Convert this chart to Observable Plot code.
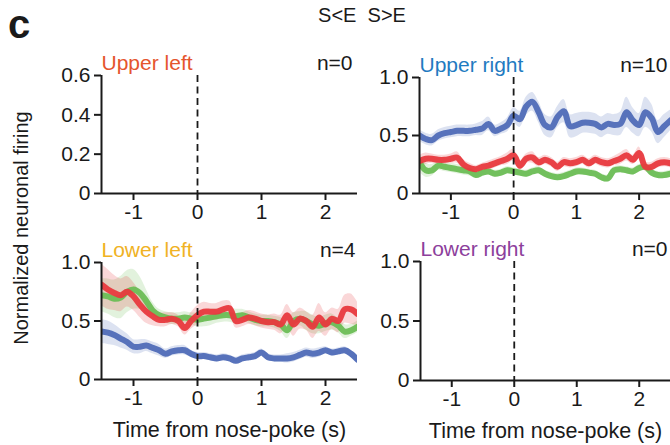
<!DOCTYPE html>
<html>
<head>
<meta charset="utf-8">
<script src="https://cdn.jsdelivr.net/npm/d3@7"></script>
<script src="https://cdn.jsdelivr.net/npm/@observablehq/plot@0.6"></script>
<style>
  body { margin: 0; background: #fff; }
  #fig { position: relative; width: 670px; height: 445px; overflow: hidden; background: #fff;
         font-family: "Liberation Sans", Arial, Helvetica, sans-serif; color: #1a1a1a; }
  .abs { position: absolute; }
  #letter { left: 8px; top: 4px; font-size: 40px; font-weight: bold; line-height: 1; }
  #heading { left: 362px; top: 5px; transform: translateX(-50%); font-size: 20px; white-space: pre; line-height: 1; }
  #ylabel { left: 21px; top: 228px; transform: translate(-50%, -50%) rotate(-90deg); font-size: 20px; white-space: nowrap; line-height: 1; }
</style>
</head>
<body>
<div id="fig">
  <div id="letter" class="abs">c</div>
  <div id="heading" class="abs">S&lt;E  S&gt;E</div>
  <div id="ylabel" class="abs">Normalized neuronal firing</div>
</div>
<script>
// Time bins (s) relative to nose-poke
const time = [-1.5, -1.4, -1.3, -1.2, -1.1, -1.0, -0.9, -0.8, -0.7, -0.6, -0.5, -0.4, -0.3, -0.2, -0.1,
  0.0, 0.1, 0.2, 0.3, 0.4, 0.5, 0.6, 0.7, 0.8, 0.9, 1.0, 1.1, 1.2, 1.3, 1.4, 1.5, 1.6, 1.7, 1.8, 1.9,
  2.0, 2.1, 2.2, 2.3, 2.4, 2.5];
const xTicks = [-1, 0, 1, 2];

// Upper right (n=10): mean and s.e.m.
const urBlue = [0.50, 0.47, 0.46, 0.50, 0.52, 0.53, 0.54, 0.54, 0.54, 0.55, 0.56, 0.60, 0.54, 0.56, 0.59,
  0.67, 0.64, 0.75, 0.79, 0.70, 0.59, 0.57, 0.66, 0.71, 0.58, 0.59, 0.61, 0.61, 0.60, 0.57, 0.60, 0.59,
  0.60, 0.70, 0.63, 0.59, 0.70, 0.65, 0.53, 0.58, 0.63];
const urBlueSe = [0.05, 0.05, 0.05, 0.05, 0.05, 0.05, 0.05, 0.05, 0.05, 0.05, 0.06, 0.06, 0.05, 0.05, 0.06,
  0.07, 0.07, 0.08, 0.08, 0.09, 0.09, 0.09, 0.09, 0.10, 0.10, 0.10, 0.09, 0.09, 0.09, 0.09, 0.09, 0.09,
  0.10, 0.13, 0.11, 0.10, 0.13, 0.12, 0.10, 0.10, 0.09];
const urRed = [0.28, 0.30, 0.30, 0.29, 0.29, 0.30, 0.31, 0.25, 0.22, 0.21, 0.23, 0.24, 0.26, 0.28, 0.30,
  0.33, 0.24, 0.30, 0.31, 0.27, 0.29, 0.27, 0.23, 0.27, 0.26, 0.27, 0.29, 0.26, 0.29, 0.27, 0.26, 0.28,
  0.30, 0.33, 0.29, 0.35, 0.23, 0.23, 0.26, 0.27, 0.26];
const urRedSe = [0.05, 0.05, 0.04, 0.04, 0.04, 0.04, 0.05, 0.04, 0.04, 0.03, 0.03, 0.04, 0.04, 0.04, 0.05,
  0.05, 0.04, 0.04, 0.05, 0.04, 0.04, 0.04, 0.04, 0.04, 0.04, 0.04, 0.04, 0.04, 0.04, 0.04, 0.04, 0.04,
  0.05, 0.05, 0.04, 0.05, 0.04, 0.04, 0.04, 0.04, 0.04];
const urGreen = [0.27, 0.20, 0.20, 0.24, 0.23, 0.22, 0.21, 0.20, 0.19, 0.16, 0.18, 0.19, 0.17, 0.18, 0.20,
  0.19, 0.18, 0.17, 0.19, 0.20, 0.17, 0.15, 0.14, 0.15, 0.17, 0.19, 0.19, 0.18, 0.17, 0.14, 0.13, 0.20,
  0.21, 0.20, 0.19, 0.22, 0.23, 0.18, 0.16, 0.16, 0.17];
const urGreenSe = [0.08, 0.06, 0.05, 0.04, 0.04, 0.04, 0.04, 0.04, 0.04, 0.03, 0.03, 0.03, 0.03, 0.03, 0.03,
  0.03, 0.03, 0.03, 0.03, 0.03, 0.03, 0.03, 0.03, 0.03, 0.03, 0.03, 0.03, 0.03, 0.03, 0.03, 0.03, 0.03,
  0.03, 0.03, 0.03, 0.03, 0.03, 0.03, 0.03, 0.03, 0.03];

// Lower left (n=4): mean and s.e.m.
const llBlue = [0.41, 0.40, 0.38, 0.35, 0.32, 0.28, 0.28, 0.29, 0.27, 0.25, 0.22, 0.24, 0.25, 0.25, 0.22,
  0.20, 0.20, 0.19, 0.18, 0.19, 0.18, 0.16, 0.18, 0.19, 0.20, 0.23, 0.19, 0.18, 0.18, 0.18, 0.19, 0.21,
  0.23, 0.22, 0.23, 0.25, 0.23, 0.24, 0.25, 0.22, 0.17];
const llBlueSe = [0.10, 0.10, 0.09, 0.08, 0.07, 0.06, 0.06, 0.05, 0.05, 0.05, 0.04, 0.04, 0.04, 0.04, 0.03,
  0.03, 0.03, 0.03, 0.03, 0.03, 0.03, 0.03, 0.03, 0.03, 0.03, 0.03, 0.03, 0.03, 0.03, 0.04, 0.04, 0.04,
  0.04, 0.04, 0.04, 0.03, 0.03, 0.03, 0.03, 0.03, 0.03];
const llRed = [0.81, 0.77, 0.74, 0.72, 0.75, 0.71, 0.64, 0.58, 0.54, 0.51, 0.51, 0.52, 0.50, 0.44, 0.50,
  0.55, 0.58, 0.58, 0.58, 0.60, 0.61, 0.50, 0.51, 0.53, 0.52, 0.50, 0.49, 0.49, 0.47, 0.55, 0.47, 0.52,
  0.50, 0.45, 0.53, 0.47, 0.52, 0.50, 0.60, 0.60, 0.56];
const llRedSe = [0.18, 0.17, 0.15, 0.14, 0.13, 0.12, 0.11, 0.10, 0.08, 0.06, 0.06, 0.05, 0.05, 0.06, 0.07,
  0.08, 0.08, 0.07, 0.07, 0.07, 0.06, 0.06, 0.06, 0.06, 0.06, 0.06, 0.06, 0.07, 0.08, 0.09, 0.10, 0.09,
  0.08, 0.10, 0.12, 0.10, 0.09, 0.10, 0.12, 0.13, 0.10];
const llGreen = [0.72, 0.71, 0.69, 0.70, 0.75, 0.77, 0.74, 0.67, 0.59, 0.55, 0.53, 0.52, 0.52, 0.53, 0.52,
  0.51, 0.52, 0.53, 0.54, 0.55, 0.55, 0.54, 0.55, 0.53, 0.51, 0.50, 0.50, 0.49, 0.47, 0.42, 0.50, 0.52,
  0.50, 0.47, 0.46, 0.48, 0.49, 0.46, 0.41, 0.42, 0.45];
const llGreenSe = [0.14, 0.15, 0.16, 0.18, 0.18, 0.17, 0.14, 0.10, 0.07, 0.05, 0.05, 0.05, 0.05, 0.05, 0.05,
  0.06, 0.07, 0.07, 0.06, 0.06, 0.06, 0.06, 0.05, 0.05, 0.05, 0.05, 0.05, 0.05, 0.06, 0.07, 0.07, 0.06,
  0.08, 0.08, 0.07, 0.07, 0.07, 0.06, 0.06, 0.05, 0.05];

const BLUE = "#4f6cb7", RED = "#e8393e", GREEN = "#6cbd55";
const FONT = '"Liberation Sans", Arial, Helvetica, sans-serif';
const INK = "#1a1a1a";

function panel({ymax, yticks, title, titleColor, n, series = [], xLabel = null,
                width, height, marginLeft, marginRight, marginTop, marginBottom, nDx}) {
  const marks = [];
  // s.e.m. bands
  for (const s of series) {
    const rows = time.map((t, i) => ({t, lo: s.values[i] - s.se[i], hi: s.values[i] + s.se[i]}));
    marks.push(Plot.areaY(rows, {x: "t", y1: "lo", y2: "hi", fill: s.color, fillOpacity: 0.2,
      curve: "catmull-rom", clip: true}));
  }
  // mean traces
  for (const s of series) {
    const rows = time.map((t, i) => ({t, v: s.values[i]}));
    marks.push(Plot.lineY(rows, {x: "t", y: "v", stroke: s.color, strokeWidth: 6,
      strokeOpacity: 0.95, curve: "catmull-rom", clip: true}));
  }
  // nose-poke onset
  marks.push(Plot.ruleX([0], {stroke: INK, strokeWidth: 1.8, strokeDasharray: "7,4.5"}));
  // axes
  marks.push(Plot.axisY({ticks: yticks, tickSize: 7, tickPadding: 4, strokeWidth: 2, stroke: INK,
    fill: INK, fontSize: 21, label: null, tickFormat: d => d === 0 ? "0" : d.toFixed(1)}));
  marks.push(Plot.axisX({ticks: xTicks, tickSize: 7, tickPadding: 4, strokeWidth: 2, stroke: INK,
    fill: INK, fontSize: 21, label: null, tickFormat: d => String(d)}));
  marks.push(Plot.ruleY([0], {stroke: INK, strokeWidth: 2}));
  marks.push(Plot.ruleX([-1.5], {y1: 0, y2: ymax, stroke: INK, strokeWidth: 2}));
  // titles
  marks.push(Plot.text([title], {frameAnchor: "top-left", textAnchor: "start", lineAnchor: "bottom",
    dy: -6, fill: titleColor, fontSize: 21}));
  marks.push(Plot.text([n], {frameAnchor: "top-right", textAnchor: "end", lineAnchor: "bottom",
    dy: -6, dx: nDx, fill: INK, fontSize: 21}));
  if (xLabel) {
    marks.push(Plot.text([xLabel], {frameAnchor: "bottom", lineAnchor: "bottom", dy: 57,
      fill: INK, fontSize: 21.5}));
  }
  return Plot.plot({
    width, height, marginLeft, marginRight, marginTop, marginBottom,
    x: {domain: [-1.5, 2.5]},
    y: {domain: [0, ymax]},
    style: {fontFamily: FONT, background: "transparent", overflow: "hidden", color: INK},
    marks
  });
}

const fig = document.getElementById("fig");
function place(svg, left, top) {
  svg.style.position = "absolute";
  svg.style.left = left + "px";
  svg.style.top = top + "px";
  fig.appendChild(svg);
}

place(panel({ymax: 0.6, yticks: [0, 0.2, 0.4, 0.6], title: "Upper left", titleColor: "#e5552d", n: "n=0",
  width: 362, height: 185, marginLeft: 101, marginRight: 5, marginTop: 35, marginBottom: 32, nDx: -5}), 0, 40);

place(panel({ymax: 1, yticks: [0, 0.5, 1], title: "Upper right", titleColor: "#1f7bc1", n: "n=10",
  series: [
    {values: urBlue, se: urBlueSe, color: BLUE},
    {values: urGreen, se: urGreenSe, color: GREEN},
    {values: urRed, se: urRedSe, color: RED}
  ],
  width: 308, height: 185, marginLeft: 57, marginRight: 0, marginTop: 37, marginBottom: 32, nDx: -3}), 362, 40);

place(panel({ymax: 1, yticks: [0, 0.5, 1], title: "Lower left", titleColor: "#f0b224", n: "n=4",
  series: [
    {values: llBlue, se: llBlueSe, color: BLUE},
    {values: llGreen, se: llGreenSe, color: GREEN},
    {values: llRed, se: llRedSe, color: RED}
  ],
  xLabel: "Time from nose-poke (s)",
  width: 362, height: 220, marginLeft: 101, marginRight: 5, marginTop: 37, marginBottom: 66, nDx: -2}), 0, 225);

place(panel({ymax: 1, yticks: [0, 0.5, 1], title: "Lower right", titleColor: "#8d3f9c", n: "n=0",
  xLabel: "Time from nose-poke (s)",
  width: 308, height: 220, marginLeft: 58, marginRight: 0, marginTop: 36, marginBottom: 65, nDx: -3}), 362, 225);
</script>
</body>
</html>
